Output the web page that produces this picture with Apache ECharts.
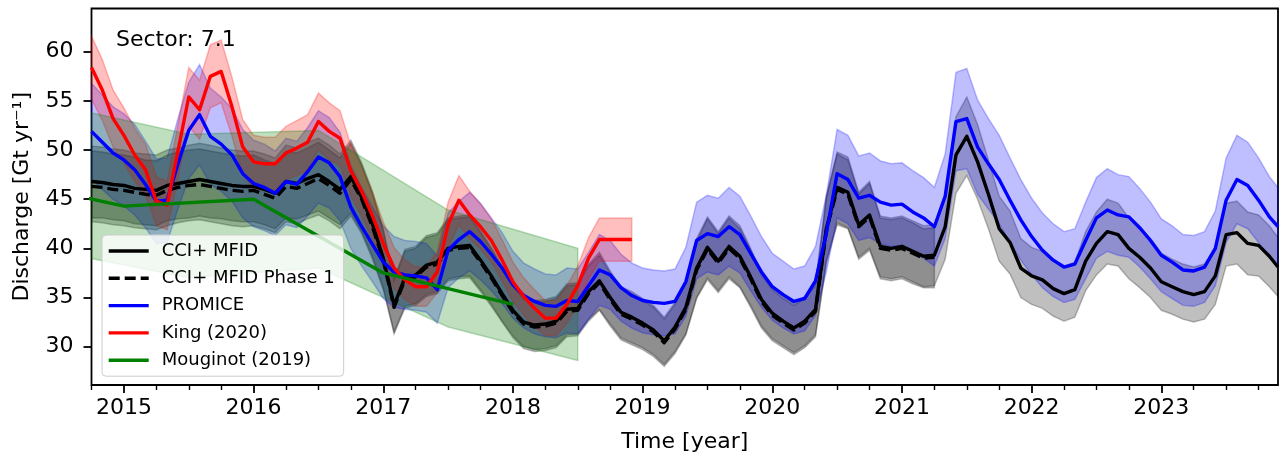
<!DOCTYPE html>
<html>
<head>
<meta charset="utf-8">
<script src="https://cdn.jsdelivr.net/npm/echarts@6/dist/echarts.min.js"></script>
<style>
  html, body { margin: 0; padding: 0; background: #ffffff; }
  #chart { width: 1281px; height: 460px; }
</style>
</head>
<body>
<div id="chart"></div>
<script>
// Monthly sampling in decimal years (Oct 2014 onwards), last sample at the end of the record
const times = [];
for (let i = 0; i < 110; i++) times.push(2014.75 + i / 12);
times.push(2023.9);

// CCI+ MFID discharge [Gt/yr] with uncertainty envelope
const cciMfid = [
  46.8, 46.7, 46.5, 46.4, 46.1, 46.0, 45.9, 46.4, 46.6, 46.8,
  47.0, 46.8, 46.6, 46.4, 46.3, 46.3, 46.0, 45.6, 46.8, 46.6,
  47.1, 47.5, 46.8, 46.0, 47.3, 45.2, 42.5, 39.0, 34.2, 37.0,
  37.3, 38.3, 38.6, 40.0, 40.2, 40.3, 38.8, 37.2, 35.4, 33.7,
  32.5, 32.2, 32.3, 32.6, 33.8, 33.9, 35.6, 36.7, 35.0, 33.5,
  33.0, 32.4, 31.7, 30.6, 32.0, 34.0, 38.0, 40.1, 38.7, 40.2,
  39.2, 37.1, 34.8, 33.4, 32.6, 31.9, 32.6, 33.8, 42.0, 46.2,
  45.7, 42.4, 43.4, 40.2, 40.0, 40.2, 39.7, 39.2, 39.3, 42.2,
  49.5, 51.4, 48.8, 45.5, 42.0, 40.6, 38.0, 37.2, 36.8, 35.9,
  35.4, 35.8, 38.7, 40.5, 41.7, 41.4, 40.0, 39.1, 38.0, 36.6,
  36.1, 35.6, 35.3, 35.6, 37.2, 41.4, 41.6, 40.5, 40.3, 39.2,
  38.1
];
const cciUpper = [
  50.4, 50.3, 50.1, 50.0, 49.7, 49.6, 49.5, 50.0, 50.2, 50.5,
  50.7, 50.5, 50.2, 50.0, 49.9, 49.9, 49.6, 49.2, 50.5, 50.2,
  50.8, 51.2, 50.5, 49.6, 51.0, 48.7, 45.8, 42.0, 36.9, 39.9,
  40.2, 41.3, 41.6, 43.1, 43.3, 43.4, 41.8, 40.1, 38.2, 36.3,
  35.0, 34.7, 34.8, 35.1, 36.4, 36.5, 38.4, 39.6, 37.7, 36.1,
  35.6, 34.9, 34.2, 33.0, 34.5, 36.7, 41.0, 43.2, 41.7, 43.3,
  42.3, 40.0, 37.5, 36.0, 35.1, 34.4, 35.1, 36.4, 45.3, 49.8,
  49.3, 45.7, 46.8, 43.3, 43.1, 43.3, 42.8, 42.3, 42.4, 45.5,
  53.4, 55.4, 52.6, 49.0, 45.3, 43.8, 41.0, 40.1, 39.7, 38.7,
  38.2, 38.6, 41.7, 43.7, 45.0, 44.6, 43.1, 42.1, 41.0, 39.5,
  38.9, 38.4, 38.1, 38.4, 40.1, 44.6, 44.8, 43.7, 43.4, 42.3,
  41.1
];
const cciLower = [
  43.1, 43.1, 42.9, 42.8, 42.5, 42.4, 42.3, 42.8, 43.0, 43.1,
  43.3, 43.1, 43.0, 42.8, 42.7, 42.7, 42.4, 42.0, 43.1, 43.0,
  43.4, 43.8, 43.1, 42.4, 43.6, 41.7, 39.2, 36.0, 31.5, 34.1,
  34.4, 35.3, 35.6, 36.9, 37.1, 37.2, 35.8, 34.3, 32.6, 31.1,
  30.0, 29.7, 29.8, 30.1, 31.2, 31.3, 32.8, 33.8, 32.3, 30.9,
  30.4, 29.9, 29.2, 28.2, 29.5, 31.3, 35.0, 37.0, 35.7, 37.1,
  36.1, 34.2, 32.1, 30.8, 30.1, 29.4, 30.1, 31.2, 38.7, 42.6,
  42.1, 39.1, 40.0, 37.1, 36.9, 37.1, 36.6, 36.1, 36.2, 38.9,
  45.6, 47.4, 45.0, 42.0, 38.7, 37.4, 35.0, 34.3, 33.9, 33.1,
  32.6, 33.0, 35.7, 37.3, 38.4, 38.2, 36.9, 36.0, 35.0, 33.7,
  33.3, 32.8, 32.5, 32.8, 34.3, 38.2, 38.4, 37.3, 37.2, 36.1,
  35.1
];

// CCI+ MFID Phase 1 (record ends in spring 2021)
const phase1 = [
  46.3, 46.2, 46.0, 45.9, 45.7, 45.5, 45.4, 45.9, 46.2, 46.4,
  46.5, 46.3, 46.1, 45.9, 45.8, 45.9, 45.5, 45.1, 46.3, 46.1,
  46.6, 47.1, 46.4, 45.6, 47.0, 45.0, 42.2, 38.8, 34.0, 36.8,
  37.1, 38.1, 38.4, 39.8, 40.0, 40.1, 38.6, 37.0, 35.2, 33.5,
  32.3, 32.0, 32.1, 32.4, 33.6, 33.7, 35.4, 36.5, 34.8, 33.3,
  32.8, 32.2, 31.5, 30.4, 31.8, 33.8, 37.8, 39.9, 38.5, 40.0,
  39.0, 36.9, 34.6, 33.2, 32.4, 31.7, 32.4, 33.6, 41.8, 46.0,
  45.5, 42.2, 43.2, 40.0, 39.8, 40.0, 39.5, 39.0, 39.1
];
const phase1Upper = [
  49.9, 49.8, 49.6, 49.5, 49.3, 49.0, 48.9, 49.5, 49.8, 50.0,
  50.1, 49.9, 49.7, 49.5, 49.4, 49.5, 49.0, 48.6, 49.9, 49.7,
  50.2, 50.8, 50.0, 49.2, 50.7, 48.5, 45.5, 41.8, 36.7, 39.7,
  40.0, 41.1, 41.4, 42.9, 43.1, 43.2, 41.6, 39.9, 37.9, 36.1,
  34.8, 34.5, 34.6, 34.9, 36.2, 36.3, 38.2, 39.3, 37.5, 35.9,
  35.4, 34.7, 34.0, 32.8, 34.3, 36.4, 40.7, 43.0, 41.5, 43.1,
  42.0, 39.8, 37.3, 35.8, 34.9, 34.2, 34.9, 36.2, 45.1, 49.6,
  49.0, 45.5, 46.6, 43.1, 42.9, 43.1, 42.6, 42.0, 42.1
];
const phase1Lower = [
  42.7, 42.6, 42.4, 42.3, 42.1, 42.0, 41.9, 42.3, 42.6, 42.8,
  42.9, 42.7, 42.5, 42.3, 42.2, 42.3, 42.0, 41.6, 42.7, 42.5,
  43.0, 43.4, 42.8, 42.0, 43.3, 41.5, 38.9, 35.8, 31.3, 33.9,
  34.2, 35.1, 35.4, 36.7, 36.9, 37.0, 35.6, 34.1, 32.5, 30.9,
  29.8, 29.5, 29.6, 29.9, 31.0, 31.1, 32.6, 33.7, 32.1, 30.7,
  30.2, 29.7, 29.0, 28.0, 29.3, 31.2, 34.9, 36.8, 35.5, 36.9,
  36.0, 34.0, 31.9, 30.6, 29.9, 29.2, 29.9, 31.0, 38.5, 42.4,
  42.0, 38.9, 39.8, 36.9, 36.7, 36.9, 36.4, 36.0, 36.0
];

// PROMICE
const promice = [
  51.9, 50.8, 49.7, 49.0, 48.0, 46.5, 44.8, 44.9, 48.6, 52.0,
  53.6, 51.4, 50.6, 49.5, 47.6, 46.6, 46.2, 45.6, 46.8, 46.5,
  47.8, 49.3, 48.7, 47.3, 44.2, 42.2, 40.4, 38.6, 37.6, 37.3,
  37.2, 37.0, 35.8, 39.8, 40.9, 41.7, 40.7, 39.4, 38.0, 36.3,
  35.2, 34.6, 34.2, 34.1, 34.7, 34.6, 36.2, 37.8, 37.3, 36.0,
  35.2, 34.7, 34.5, 34.4, 34.6, 36.6, 40.8, 41.5, 41.2, 42.2,
  41.4, 39.5, 37.6, 36.1, 35.3, 34.6, 34.9, 36.7, 41.5, 47.6,
  47.0, 45.1, 45.4, 44.7, 44.4, 44.5, 43.7, 43.1, 42.2, 45.3,
  52.9, 53.2, 50.3, 48.6, 47.0, 44.9, 42.9, 41.2, 39.8, 38.8,
  38.1, 38.4, 40.8, 43.1, 43.9, 43.4, 43.2, 42.1, 40.8, 39.3,
  38.6, 37.8, 37.7, 38.1, 40.0, 44.9, 47.0, 46.4, 44.9, 43.2,
  42.2
];
const promiceUpper = [
  56.8, 55.6, 54.4, 53.7, 52.6, 50.9, 49.1, 49.2, 53.2, 56.9,
  58.7, 56.3, 55.4, 54.2, 52.1, 51.0, 50.6, 49.9, 51.2, 50.9,
  52.3, 54.0, 53.3, 51.8, 48.4, 46.2, 44.2, 42.3, 41.2, 40.8,
  40.7, 40.5, 39.2, 43.6, 44.8, 45.7, 44.6, 43.1, 41.6, 39.7,
  38.5, 37.9, 37.4, 37.3, 38.0, 37.9, 39.6, 41.4, 40.8, 39.4,
  38.5, 38.0, 37.8, 37.7, 37.9, 40.1, 44.7, 45.4, 45.1, 46.2,
  45.3, 43.3, 41.2, 39.5, 38.7, 37.9, 38.2, 40.2, 45.4, 52.1,
  51.5, 49.4, 49.7, 48.9, 48.6, 48.7, 47.9, 47.2, 46.2, 49.6,
  57.9, 58.3, 55.1, 53.2, 51.5, 49.2, 47.0, 45.1, 43.6, 42.5,
  41.7, 42.0, 44.7, 47.2, 48.1, 47.5, 47.3, 46.1, 44.7, 43.0,
  42.3, 41.4, 41.3, 41.7, 43.8, 49.2, 51.5, 50.8, 49.2, 47.3,
  46.2
];
const promiceLower = [
  47.0, 46.0, 45.0, 44.3, 43.4, 42.1, 40.5, 40.6, 44.0, 47.1,
  48.5, 46.5, 45.8, 44.8, 43.1, 42.2, 41.8, 41.3, 42.4, 42.1,
  43.3, 44.6, 44.1, 42.8, 40.0, 38.2, 36.6, 34.9, 34.0, 33.8,
  33.7, 33.5, 32.4, 36.0, 37.0, 37.7, 36.8, 35.7, 34.4, 32.9,
  31.9, 31.3, 31.0, 30.9, 31.4, 31.3, 32.8, 34.2, 33.8, 32.6,
  31.9, 31.4, 31.2, 31.1, 31.3, 33.1, 36.9, 37.6, 37.3, 38.2,
  37.5, 35.7, 34.0, 32.7, 31.9, 31.3, 31.6, 33.2, 37.6, 43.1,
  42.5, 40.8, 41.1, 40.5, 40.2, 40.3, 39.5, 39.0, 38.2, 41.0,
  47.9, 48.1, 45.5, 44.0, 42.5, 40.6, 38.8, 37.3, 36.0, 35.1,
  34.5, 34.8, 36.9, 39.0, 39.7, 39.3, 39.1, 38.1, 36.9, 35.6,
  34.9, 34.2, 34.1, 34.5, 36.2, 40.6, 42.5, 42.0, 40.6, 39.1,
  38.2
];

// King (2020), monthly until late 2018
const king = [
  58.4, 56.1, 53.2, 51.5, 49.5, 48.0, 44.8, 44.4, 49.9, 55.4,
  54.1, 57.5, 58.0, 54.4, 50.3, 48.8, 48.6, 48.6, 49.7, 50.2,
  50.8, 52.9, 51.9, 51.2, 47.9, 45.8, 43.3, 40.5, 38.0, 36.8,
  36.1, 36.1, 37.6, 42.4, 44.9, 43.4, 42.2, 40.8, 38.8, 36.6,
  35.1, 33.9, 32.9, 32.9, 34.3, 36.2, 39.0, 40.9, 40.9, 40.9,
  40.9
];
const kingUpper = [
  61.6, 59.2, 56.1, 54.3, 52.2, 50.6, 47.3, 46.8, 52.6, 58.4,
  57.1, 60.7, 61.2, 57.4, 53.1, 51.5, 51.3, 51.3, 52.4, 53.0,
  53.6, 55.8, 54.8, 54.0, 50.5, 48.3, 45.7, 42.7, 40.1, 38.8,
  38.1, 38.1, 39.7, 44.7, 47.4, 45.8, 44.5, 43.0, 40.9, 38.6,
  37.0, 35.8, 34.7, 34.7, 36.2, 38.2, 41.1, 43.1, 43.1, 43.1,
  43.1
];
const kingLower = [
  55.2, 53.0, 50.3, 48.7, 46.8, 45.4, 42.3, 41.9, 47.2, 52.4,
  51.1, 54.3, 54.8, 51.4, 47.5, 46.1, 45.9, 45.9, 47.0, 47.4,
  48.0, 50.0, 49.0, 48.4, 45.3, 43.3, 40.9, 38.3, 35.9, 34.8,
  34.1, 34.1, 35.5, 40.1, 42.4, 41.0, 39.9, 38.6, 36.7, 34.6,
  33.2, 32.0, 31.1, 31.1, 32.4, 34.2, 36.9, 38.7, 38.7, 38.7,
  38.7
];

// Mouginot (2019): annual values, envelope plotted at mid-year
const mouginotYears = [2014, 2015, 2016, 2017, 2018];
const mouginot = [47.2, 44.3, 45.0, 37.5, 34.3];
const mouginotBandYears = [2014.5, 2015.5, 2016.5, 2017.5, 2018.5];
const mouginotUpper = [54.5, 51.6, 52.0, 43.9, 40.0];
const mouginotLower = [39.6, 37.0, 38.0, 32.0, 28.6];

// Axis ticks
const yearTicks = [2015, 2016, 2017, 2018, 2019, 2020, 2021, 2022, 2023];
const quarterTicks = [];
for (let y = 2014; y <= 2023; y++) {
  [0.25, 0.5, 0.75].forEach(q => { if (y + q >= 2014.75) quarterTicks.push(y + q); });
}
const valueTicks = [30, 35, 40, 45, 50, 55, 60];

const FONT = 'DejaVu Sans';

function pairs(xs, ys) {
  return ys.map((v, i) => [xs[i], v]);
}

// Shaded envelope drawn as one closed polygon (upper edge forward, lower edge back)
function band(name, xs, upper, lower, rgb) {
  return {
    type: 'custom',
    name: name,
    clip: true,
    silent: true,
    data: [[xs[xs.length - 1], lower[lower.length - 1]]],
    renderItem: function (params, api) {
      const pts = [];
      for (let i = 0; i < upper.length; i++) pts.push(api.coord([xs[i], upper[i]]));
      for (let i = lower.length - 1; i >= 0; i--) pts.push(api.coord([xs[i], lower[i]]));
      return {
        type: 'polygon',
        shape: { points: pts },
        style: {
          fill: 'rgba(' + rgb + ',0.25)',
          stroke: 'rgba(' + rgb + ',0.25)',
          lineWidth: 1.5
        }
      };
    }
  };
}

function line(name, xs, ys, color, dash) {
  return {
    type: 'line',
    name: name,
    data: pairs(xs, ys),
    symbol: 'none',
    clip: true,
    lineStyle: { color: color, width: 3.4, type: dash || 'solid', join: 'round' },
    itemStyle: { color: color }
  };
}

const chart = echarts.init(document.getElementById('chart'), null, { renderer: 'canvas' });

chart.setOption({
  animation: false,
  backgroundColor: '#ffffff',
  textStyle: { fontFamily: FONT },
  title: {
    text: 'Sector: 7.1',
    left: 116,
    top: 29,
    padding: 0,
    textStyle: { fontFamily: FONT, fontSize: 22, fontWeight: 'normal', color: '#000000' }
  },
  grid: {
    left: 91.5,
    right: 3,
    top: 8.5,
    bottom: 75,
    show: true,
    borderColor: '#000000',
    borderWidth: 1.8,
    backgroundColor: 'transparent'
  },
  legend: {
    data: ['CCI+ MFID', 'CCI+ MFID Phase 1', 'PROMICE', 'King (2020)', 'Mouginot (2019)'],
    orient: 'vertical',
    left: 102,
    top: 235,
    padding: [7, 9, 7, 5],
    itemGap: 9.3,
    itemWidth: 40,
    itemHeight: 18,
    selectedMode: false,
    backgroundColor: 'rgba(255,255,255,0.8)',
    borderColor: '#cccccc',
    borderWidth: 1,
    borderRadius: 4,
    itemStyle: { opacity: 0 },
    lineStyle: { width: 3.4 },
    textStyle: { fontFamily: FONT, fontSize: 18, color: '#000000', padding: [0, 0, 0, 8] }
  },
  xAxis: [
    {
      type: 'value',
      min: 2014.75,
      max: 2023.9,
      name: 'Time [year]',
      nameLocation: 'middle',
      nameGap: 46,
      nameTextStyle: { fontFamily: FONT, fontSize: 22, color: '#000000' },
      axisLine: { show: false },
      splitLine: { show: false },
      axisTick: { show: true, customValues: yearTicks, length: 8, inside: false,
                  lineStyle: { color: '#000000', width: 1.8 } },
      axisLabel: { customValues: yearTicks, margin: 12, fontFamily: FONT, fontSize: 22,
                   color: '#000000', formatter: v => String(v) }
    },
    {
      type: 'value',
      min: 2014.75,
      max: 2023.9,
      position: 'bottom',
      axisLine: { show: false },
      splitLine: { show: false },
      axisLabel: { show: false },
      axisTick: { show: true, customValues: quarterTicks, length: 5, inside: false,
                  lineStyle: { color: '#000000', width: 1.4 } }
    }
  ],
  yAxis: {
    type: 'value',
    min: 26.1,
    max: 64.4,
    name: 'Discharge [Gt yr\u207B\u00B9]',
    nameLocation: 'middle',
    nameGap: 58,
    nameTextStyle: { fontFamily: FONT, fontSize: 22, color: '#000000' },
    axisLine: { show: false },
    splitLine: { show: false },
    axisTick: { show: true, customValues: valueTicks, length: 8, inside: false,
                lineStyle: { color: '#000000', width: 1.8 } },
    axisLabel: { customValues: valueTicks, margin: 18, fontFamily: FONT, fontSize: 22,
                 color: '#000000' }
  },
  series: [
    band('CCI+ MFID band', times, cciUpper, cciLower, '0,0,0'),
    line('CCI+ MFID', times, cciMfid, '#000000'),
    band('CCI+ MFID Phase 1 band', times, phase1Upper, phase1Lower, '0,0,0'),
    line('CCI+ MFID Phase 1', times, phase1, '#000000', [11, 5]),
    band('PROMICE band', times, promiceUpper, promiceLower, '0,0,255'),
    line('PROMICE', times, promice, '#0000ff'),
    band('King (2020) band', times, kingUpper, kingLower, '255,0,0'),
    line('King (2020)', times, king, '#ff0000'),
    band('Mouginot (2019) band', mouginotBandYears, mouginotUpper, mouginotLower, '0,128,0'),
    line('Mouginot (2019)', mouginotYears, mouginot, '#008000')
  ]
});
</script>
</body>
</html>
